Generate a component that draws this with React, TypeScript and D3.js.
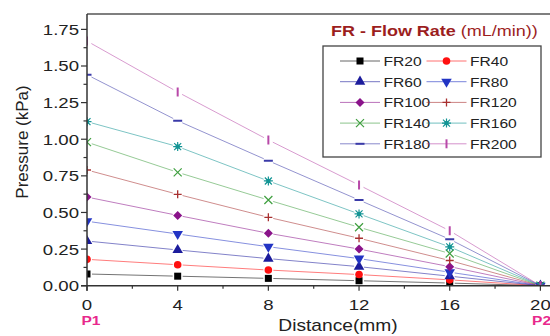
import React from "react";
import * as d3 from "d3";

const distance = [0, 4, 8, 12, 16, 20];
const fr20 = [0.08, 0.065, 0.05, 0.034, 0.018, 0];
const fr40 = [0.18, 0.143, 0.107, 0.076, 0.04, 0];
const fr60 = [0.305, 0.244, 0.185, 0.13, 0.065, 0];
const fr80 = [0.44, 0.353, 0.266, 0.185, 0.092, 0];
const fr100 = [0.605, 0.48, 0.358, 0.25, 0.13, 0];
const fr120 = [0.79, 0.624, 0.467, 0.324, 0.172, 0];
const fr140 = [0.98, 0.774, 0.585, 0.399, 0.22, 0];
const fr160 = [1.12, 0.95, 0.715, 0.49, 0.265, 0];
const fr180 = [1.44, 1.126, 0.853, 0.585, 0.317, 0];
const fr200 = [1.67, 1.322, 0.995, 0.687, 0.375, 0];

const seriesNames = ["FR20", "FR40", "FR60", "FR80", "FR100", "FR120", "FR140", "FR160", "FR180", "FR200"];
const seriesValues = [fr20, fr40, fr60, fr80, fr100, fr120, fr140, fr160, fr180, fr200];
const seriesColors = ["#000000", "#ff1010", "#1c1c9c", "#2234c4", "#8a138a", "#a83030", "#3f9f3f", "#129494", "#3a3aa8", "#b848a8"];
const seriesMarkers = ["square", "circle", "triUp", "triDown", "diamond", "plus", "x", "star", "hdash", "vdash"];

const yTicks = [0, 0.25, 0.5, 0.75, 1.0, 1.25, 1.5, 1.75];
const xTicks = [0, 4, 8, 12, 16, 20];

const FONT = "'Liberation Sans', Arial, sans-serif";
const SX = 1.2;

function Marker({ type, color, x, y }: { type: string; color: string; x: number; y: number }) {
  const t = `translate(${x},${y})`;
  switch (type) {
    case "square":
      return <rect x={x - 3.5} y={y - 3.5} width={7} height={7} fill={color} />;
    case "circle":
      return <circle cx={x} cy={y} r={3.8} fill={color} />;
    case "triUp":
      return <path transform={t} d={d3.symbol(d3.symbolTriangle, 48)()!} fill={color} />;
    case "triDown":
      return <path transform={`${t} rotate(180)`} d={d3.symbol(d3.symbolTriangle, 48)()!} fill={color} />;
    case "diamond":
      return <path transform={t} d="M0,-4.5L4.5,0L0,4.5L-4.5,0Z" fill={color} />;
    case "plus":
      return <path transform={t} d="M-4,0H4M0,-4V4" stroke={color} strokeWidth={1.3} fill="none" />;
    case "x":
      return <path transform={t} d="M-4,-4L4,4M-4,4L4,-4" stroke={color} strokeWidth={1.2} fill="none" />;
    case "star":
      return (
        <g transform={t}>
          <path d="M-3.5,-3.5L3.5,3.5M-3.5,3.5L3.5,-3.5M-4.5,0H4.5M0,-4.5V4.5" stroke={color} strokeWidth={1.2} fill="none" />
          <rect x={-2} y={-2} width={4} height={4} fill={color} />
        </g>
      );
    case "hdash":
      return <path transform={t} d="M-4.5,0H4.5" stroke={color} strokeWidth={2} fill="none" />;
    case "vdash":
      return <path transform={t} d="M0,-4.5V4.5" stroke={color} strokeWidth={2} fill="none" />;
    default:
      return null;
  }
}

function T({ x, y, anchor = "start", size, sx = SX, weight = "normal", fill = "#222", children }: any) {
  return (
    <g transform={`translate(${x},${y}) scale(${sx},1)`}>
      <text x={0} y={0} textAnchor={anchor} fontSize={size} fontFamily={FONT} fontWeight={weight} fill={fill}>
        {children}
      </text>
    </g>
  );
}

export default function App() {
  const left = 87;
  const top = 14;
  const bottom = 285.7;
  const x = d3.scaleLinear().domain([0, 20.5]).range([left, left + 20.5 * 22.67]);
  const y = d3.scaleLinear().domain([0, 1.855]).range([bottom, top]);
  const gap = 5;

  const minorY = d3.range(0.125, 1.85, 0.25);
  const minorX = d3.range(2, 20, 4);

  return (
    <svg width={550} height={336} style={{ position: "absolute", left: 0, top: 0, background: "#fff" }}>
      <defs>
        <clipPath id="plotclip">
          <rect x={left} y={top} width={470} height={bottom - top} />
        </clipPath>
      </defs>
      <rect x={0} y={0} width={550} height={336} fill="#fff" />

      {/* lines */}
      <g clipPath="url(#plotclip)">
        {seriesValues.map((vals, si) => {
          const segs = [];
          for (let i = 0; i < vals.length - 1; i++) {
            const x1 = x(distance[i]), y1 = y(vals[i]);
            const x2 = x(distance[i + 1]), y2 = y(vals[i + 1]);
            const len = Math.hypot(x2 - x1, y2 - y1);
            const ux = (x2 - x1) / len, uy = (y2 - y1) / len;
            segs.push(
              <line
                key={i}
                x1={x1 + ux * gap}
                y1={y1 + uy * gap}
                x2={x2 - ux * gap}
                y2={y2 - uy * gap}
                stroke={seriesColors[si]}
                strokeOpacity={0.55}
                strokeWidth={1}
              />
            );
          }
          return <g key={si}>{segs}</g>;
        })}
        {seriesValues.map((vals, si) =>
          vals.map((v, i) => (
            <Marker key={`${si}-${i}`} type={seriesMarkers[si]} color={seriesColors[si]} x={x(distance[i])} y={y(v)} />
          ))
        )}
      </g>

      {/* frame */}
      <line x1={left} y1={top} x2={550} y2={top} stroke="#555" strokeWidth={1.5} />
      <line x1={left} y1={top} x2={left} y2={bottom + 5} stroke="#333" strokeWidth={1.5} />
      <line x1={left - 6} y1={bottom} x2={550} y2={bottom} stroke="#333" strokeWidth={1.5} />

      {/* y ticks */}
      {yTicks.map((t) => (
        <g key={t}>
          <line x1={left - 6} x2={left} y1={y(t)} y2={y(t)} stroke="#333" strokeWidth={1.2} />
          <T x={left - 8} y={y(t) + 5.5} anchor="end" size={15.5}>
            {t.toFixed(2)}
          </T>
        </g>
      ))}
      {minorY.map((t) => (
        <line key={t} x1={left - 3.5} x2={left} y1={y(t)} y2={y(t)} stroke="#333" strokeWidth={1.2} />
      ))}

      {/* x ticks */}
      {xTicks.map((t) => (
        <g key={t}>
          <line x1={x(t)} x2={x(t)} y1={bottom} y2={bottom + 5} stroke="#333" strokeWidth={1.2} />
          <T x={x(t)} y={310} anchor="middle" size={15.5}>
            {t}
          </T>
        </g>
      ))}
      {minorX.map((t) => (
        <line key={t} x1={x(t)} x2={x(t)} y1={bottom} y2={bottom + 3} stroke="#333" strokeWidth={1.2} />
      ))}

      {/* axis titles */}
      <T x={338} y={331} anchor="middle" size={16}>
        Distance(mm)
      </T>
      <text
        transform="translate(28,142) rotate(-90)"
        textAnchor="middle"
        fontSize={17}
        fontFamily={FONT}
        fill="#222"
      >
        Pressure (kPa)
      </text>

      {/* P1 / P2 */}
      <T x={91} y={325} anchor="middle" size={13} weight="bold" fill="#e8288c">
        P1
      </T>
      <T x={532} y={325} anchor="start" size={13} weight="bold" fill="#e8288c">
        P2
      </T>

      {/* legend title */}
      <g transform={`translate(331,36) scale(${SX},1)`}>
        <text x={0} y={0} fontSize={15} fontFamily={FONT} fill="#9c1e1e">
          <tspan fontWeight="bold">FR - Flow Rate </tspan>
          <tspan>(mL/min))</tspan>
        </text>
      </g>

      {/* legend */}
      <rect x={323} y={46} width={218} height={111} fill="#fff" stroke="#444" strokeWidth={1.3} />
      {seriesNames.map((name, i) => {
        const col = i % 2;
        const row = Math.floor(i / 2);
        const cy = 61 + row * 20.7;
        const lx = col === 0 ? 340 : 426.5;
        const tx = col === 0 ? 383.5 : 470;
        return (
          <g key={name}>
            <line x1={lx} x2={lx + 40} y1={cy} y2={cy} stroke={seriesColors[i]} strokeOpacity={0.6} strokeWidth={1} />
            <Marker type={seriesMarkers[i]} color={seriesColors[i]} x={lx + 20} y={cy} />
            <T x={tx} y={cy + 5} size={13}>
              {name}
            </T>
          </g>
        );
      })}
    </svg>
  );
}
